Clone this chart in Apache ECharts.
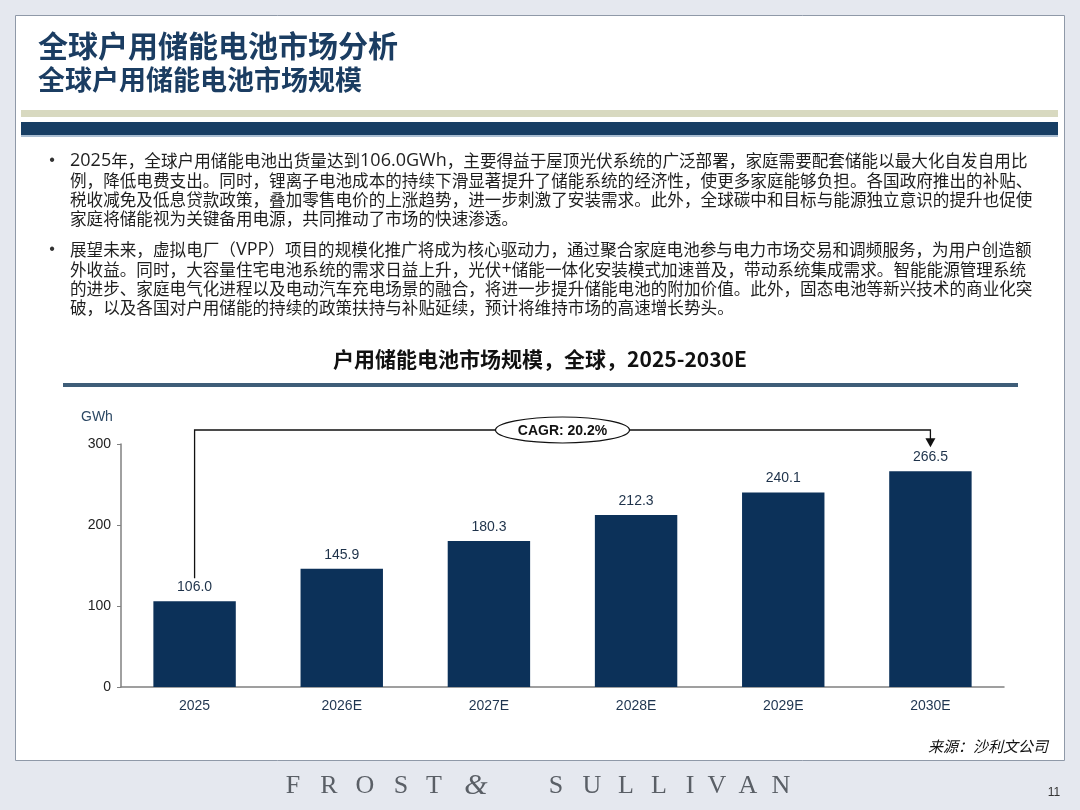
<!DOCTYPE html>
<html>
<head>
<meta charset="utf-8">
<script src="https://cdn.jsdelivr.net/npm/echarts@6/dist/echarts.min.js"></script>
<style>
html,body{margin:0;padding:0;background:#e5e8ef;}
#c{width:1080px;height:810px;}
</style>
</head>
<body>
<div id="c"></div>
<script>
const categories = ['2025','2026E','2027E','2028E','2029E','2030E'];
const values = [106.0, 145.9, 180.3, 212.3, 240.1, 266.5];
const yTicks = [0, 100, 200, 300];
const cagrText = 'CAGR: 20.2%';
const unitText = 'GWh';
const pageTitle = '全球户用储能电池市场分析';
const pageSubtitle = '全球户用储能电池市场规模';
const chartTitle = '户用储能电池市场规模，全球，2025-2030E';
const sourceText = '来源：沙利文公司';
const bullet1 = [
  '2025年，全球户用储能电池出货量达到106.0GWh，主要得益于屋顶光伏系统的广泛部署，家庭需要配套储能以最大化自发自用比',
  '例，降低电费支出。同时，锂离子电池成本的持续下滑显著提升了储能系统的经济性，使更多家庭能够负担。各国政府推出的补贴、',
  '税收减免及低息贷款政策，叠加零售电价的上涨趋势，进一步刺激了安装需求。此外，全球碳中和目标与能源独立意识的提升也促使',
  '家庭将储能视为关键备用电源，共同推动了市场的快速渗透。'
];
const bullet2 = [
  '展望未来，虚拟电厂（VPP）项目的规模化推广将成为核心驱动力，通过聚合家庭电池参与电力市场交易和调频服务，为用户创造额',
  '外收益。同时，大容量住宅电池系统的需求日益上升，光伏+储能一体化安装模式加速普及，带动系统集成需求。智能能源管理系统',
  '的进步、家庭电气化进程以及电动汽车充电场景的融合，将进一步提升储能电池的附加价值。此外，固态电池等新兴技术的商业化突',
  '破，以及各国对户用储能的持续的政策扶持与补贴延续，预计将维持市场的高速增长势头。'
];
const footerLetters = ['F','R','O','S','T','&','S','U','L','L','I','V','A','N'];
const footerX = [293, 329, 365, 401, 434, 476, 556, 592, 626, 659, 690, 717, 748, 781];
const pageNumber = '11';

const CJK = '"Noto Sans CJK SC", "Noto Sans", sans-serif';
const LAT = '"Liberation Sans", Arial, "Noto Sans CJK SC", sans-serif';

const chart = echarts.init(document.getElementById('c'), null, {renderer: 'canvas'});

function txt(x, y, text, font, fill, align, valign, extra) {
  return Object.assign({
    type: 'text', x: x, y: y, silent: true,
    style: {text: text, font: font, fill: fill, textAlign: align || 'left', textVerticalAlign: valign || 'middle'}
  }, extra || {});
}

// bullet line as rich text: latin runs get a slightly wider face
function richLine(x, y, line) {
  const parts = line.match(/[\x20-\x7e]+|[^\x20-\x7e]+/g) || [];
  const s = parts.map(p => (/^[\x20-\x7e]+$/.test(p) ? '{l|' + p + '}' : '{c|' + p + '}')).join('');
  return {
    type: 'text', x: x, y: y, silent: true,
    style: {
      text: s, fill: '#1e1e1e', textAlign: 'left', textVerticalAlign: 'middle',
      rich: {
        c: {fontSize: 16.6, fontFamily: CJK, fill: '#1e1e1e'},
        l: {fontSize: 18, fontFamily: '"Open Sans", "Noto Sans", sans-serif', fill: '#1e1e1e'}
      }
    }
  };
}

const staticGraphics = [];
staticGraphics.push({type:'rect', shape:{x:15.5,y:15.5,width:1049,height:745}, style:{fill:'#ffffff', stroke:'#8f99a8', lineWidth:1}, z:-10, silent:true});
staticGraphics.push(txt(38, 46, pageTitle, 'bold 30px ' + CJK, '#1b3d62'));
staticGraphics.push(txt(38, 80, pageSubtitle, 'bold 27px ' + CJK, '#1b3d62'));
staticGraphics.push({type:'rect', shape:{x:21,y:110,width:1037,height:7}, style:{fill:'#d8d9c0'}, silent:true});
staticGraphics.push({type:'rect', shape:{x:21,y:122,width:1037,height:13}, style:{fill:'#173e64'}, silent:true});
staticGraphics.push({type:'rect', shape:{x:21,y:135,width:1037,height:2}, style:{fill:'#a9bdd2'}, silent:true});
const lineH = 19.3;
bullet1.forEach((l, i) => staticGraphics.push(richLine(70, 161 + i * lineH, l)));
bullet2.forEach((l, i) => staticGraphics.push(richLine(70, 250 + i * lineH, l)));
staticGraphics.push(txt(52, 161, '•', '16px ' + LAT, '#333', 'center'));
staticGraphics.push(txt(52, 250, '•', '16px ' + LAT, '#333', 'center'));
staticGraphics.push(txt(540, 359, chartTitle, 'bold 21px ' + CJK, '#111111', 'center'));
staticGraphics.push({type:'rect', shape:{x:63,y:383,width:955,height:4}, style:{fill:'#3e5d78'}, silent:true});
staticGraphics.push(txt(81, 417, unitText, '14px ' + LAT, '#2c4864'));
staticGraphics.push(txt(1048, 746, sourceText, 'italic 15px ' + CJK, '#111111', 'right'));
footerLetters.forEach((ch, i) => {
  const isAmp = ch === '&';
  staticGraphics.push(txt(footerX[i], 786, ch, (isAmp ? 'italic 30px ' : '26px ') + '"Liberation Serif", "DejaVu Serif", serif', '#5a5f66', 'center'));
});
staticGraphics.push(txt(1054, 793, pageNumber, '12px ' + LAT, '#333', 'center'));

const option = {
  animation: false,
  backgroundColor: '#e5e8ef',
  grid: {left: 121, right: 76, top: 444, bottom: 123, containLabel: false},
  xAxis: {
    type: 'category',
    data: categories,
    axisLine: {show: true, lineStyle: {color: '#808080', width: 1.5}},
    axisTick: {show: false},
    axisLabel: {color: '#1f3550', fontSize: 14, fontFamily: LAT, margin: 12}
  },
  yAxis: {
    type: 'value',
    min: 0, max: 300, interval: 100,
    axisLine: {show: true, lineStyle: {color: '#808080', width: 1.5}},
    axisTick: {show: true, inside: false, length: 4, lineStyle: {color: '#808080'}},
    splitLine: {show: false},
    axisLabel: {color: '#222222', fontSize: 14, fontFamily: LAT, margin: 10,
      formatter: v => yTicks.includes(v) ? String(v) : ''}
  },
  series: [{
    type: 'bar',
    data: values,
    barWidth: '56%',
    itemStyle: {color: '#0c3159'},
    label: {show: true, position: 'top', distance: 7, color: '#1e324a', fontSize: 14, fontFamily: LAT,
      formatter: p => p.value.toFixed(1)}
  }],
  graphic: staticGraphics
};
chart.setOption(option);

const first = 0, last = categories.length - 1;
const p0 = chart.convertToPixel({seriesIndex: 0}, [first, values[first]]);
const p5 = chart.convertToPixel({seriesIndex: 0}, [last, values[last]]);
const pTop = chart.convertToPixel({seriesIndex: 0}, [0, 300]);
const yTop = pTop[1] - 14;
const tip = p5[1] - 24;
const midX = (p0[0] + p5[0]) / 2;
const more = [
  {type: 'polyline', silent: true, z: 5, shape: {points: [[p0[0], p0[1] - 23], [p0[0], yTop], [p5[0], yTop], [p5[0], tip - 8]]},
   style: {stroke: '#111', lineWidth: 1.3, fill: null}},
  {type: 'polygon', silent: true, z: 5, shape: {points: [[p5[0] - 5, tip - 9], [p5[0] + 5, tip - 9], [p5[0], tip]]}, style: {fill: '#111'}},
  {type: 'ellipse', silent: true, z: 6, shape: {cx: midX, cy: yTop, rx: 67, ry: 13}, style: {fill: '#fff', stroke: '#111', lineWidth: 1.2}},
  txt(midX, yTop + 1, cagrText, 'bold 14px ' + LAT, '#111', 'center', 'middle', {z: 7})
];
chart.setOption({graphic: staticGraphics.concat(more)});
</script>
</body>
</html>
